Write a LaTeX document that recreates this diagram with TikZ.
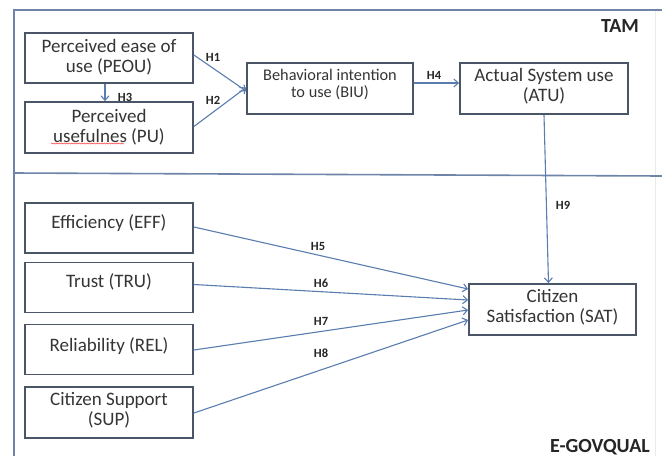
\documentclass[tikz,border=0pt]{standalone}
\usepackage{fontspec}
\setmainfont{Carlito}
\usetikzlibrary{arrows.meta,calc,decorations.pathmorphing}
\definecolor{boxline}{HTML}{4A5568}
\definecolor{arrowc}{HTML}{5A7DB0}
\definecolor{framec}{HTML}{6E84A8}
\definecolor{txtc}{HTML}{353535}
\tikzset{
  box/.style={draw=boxline,line width=1.8pt,minimum width=168pt,minimum height=50pt,inner sep=0pt},
  boxtxt/.style={text=txtc,align=center,font=\fontsize{19}{20}\selectfont,inner sep=0pt},
  smalltxt/.style={text=txtc,align=center,font=\fontsize{16.3}{17}\selectfont,inner sep=0pt},
  hyp/.style={font=\bfseries\fontsize{12.5}{13}\selectfont,text=black!85,inner sep=0pt},
  conn/.style={draw=arrowc,line width=1.1pt,-{Straight Barb[length=4.5pt,width=8pt,line width=1.1pt]}},
  frame/.style={draw=framec,line width=1.6pt},
  title/.style={font=\bfseries\fontsize{20}{22}\selectfont,text=black!85,inner sep=0pt},
  squiggle/.style={draw=red!75,line width=0.5pt,decorate,decoration={snake,amplitude=0.6pt,segment length=2.5pt}}
}
\begin{document}
\begin{tikzpicture}[x=1pt,y=-1pt]
\useasboundingbox (0,0) rectangle (662,456);
\fill[white] (0,0) rectangle (662,456);
% frame
\coordinate (ftl) at (14,10);
\coordinate (ftr) at (662,10);
\coordinate (fbl) at (14,456);
\coordinate (dl) at (14,173);
\coordinate (dr) at (662,176);
\coordinate (rt) at (655,10);
\coordinate (rb) at (655,456);
\draw[black!8,line width=0.8pt] (rt) -- (rb);
\draw[frame] (ftr) -- (ftl) -- (fbl);
\draw[frame] (dl) -- (dr);
\node[title] (tam) at (620,26) {TAM};
\node[title] (egov) at (600,447) {E-GOVQUAL};
% TAM boxes
\node[box] (peou) at (109,58) {};
\node[boxtxt] (peouT) at (109,57) {Perceived ease of\\use (PEOU)};
\node[box,minimum height=51pt] (pu) at (109,127.5) {};
\node[boxtxt] (puT) at (109,127) {Perceived\\usefulnes (PU)};
\coordinate (sqa) at (51,143.5);
\coordinate (sqb) at (124,143.5);
\draw[squiggle] (sqa) -- (sqb);
\node[box,minimum width=166pt,minimum height=51pt] (biu) at (330,88.5) {};
\node[smalltxt] (biuT) at (330,84) {Behavioral intention\\to use (BIU)};
\node[box,minimum height=51pt] (atu) at (544,88.5) {};
\node[boxtxt] (atuT) at (544,86) {Actual System use\\(ATU)};
% E-GOVQUAL boxes
\node[box] (eff) at (109,228) {};
\node[boxtxt] (effT) at (109,223) {Efficiency (EFF)};
\node[box] (tru) at (109,287.5) {};
\node[boxtxt] (truT) at (109,282) {Trust (TRU)};
\node[box] (rel) at (109,349.5) {};
\node[boxtxt] (relT) at (109,346.5) {Reliability (REL)};
\node[box,minimum height=51pt] (sup) at (109,412.5) {};
\node[boxtxt] (supT) at (109,410) {Citizen Support\\(SUP)};
\node[box,minimum width=167pt,minimum height=51pt] (sat) at (552.5,309.5) {};
\node[boxtxt] (satT) at (552.5,307) {Citizen\\Satisfaction (SAT)};
% connectors
\draw[conn] ([yshift=3pt]peou.east) -- ([yshift=-2.5pt]biu.west);
\draw[conn] ([yshift=1pt]pu.east) -- ([yshift=1pt]biu.west);
\draw[conn] ([xshift=-4pt]peou.south) -- ([xshift=-4pt]pu.north);
\draw[conn] ([yshift=5.5pt]biu.east) -- ([yshift=5.5pt]atu.west);
\draw[conn] (atu.south) -- ([xshift=-4pt]sat.north);
\draw[conn] ([yshift=1pt]eff.east) -- ([yshift=20.5pt]sat.west);
\draw[conn] ([yshift=3pt]tru.east) -- ([yshift=9.5pt]sat.west);
\draw[conn] ([yshift=-0.5pt]rel.east) -- ([yshift=-0.5pt]sat.west);
\draw[conn] ([yshift=-0.5pt]sup.east) -- ([yshift=-10.5pt]sat.west);
% hypothesis labels
\node[hyp] (h1) at (213,57) {H1};
\node[hyp] (h2) at (213,100) {H2};
\node[hyp] (h3) at (125,97) {H3};
\node[hyp] (h4) at (434,75) {H4};
\node[hyp] (h5) at (318,246) {H5};
\node[hyp] (h6) at (321,283) {H6};
\node[hyp] (h7) at (321,321) {H7};
\node[hyp] (h8) at (321,353) {H8};
\node[hyp] (h9) at (563,205) {H9};
\end{tikzpicture}
\end{document}
